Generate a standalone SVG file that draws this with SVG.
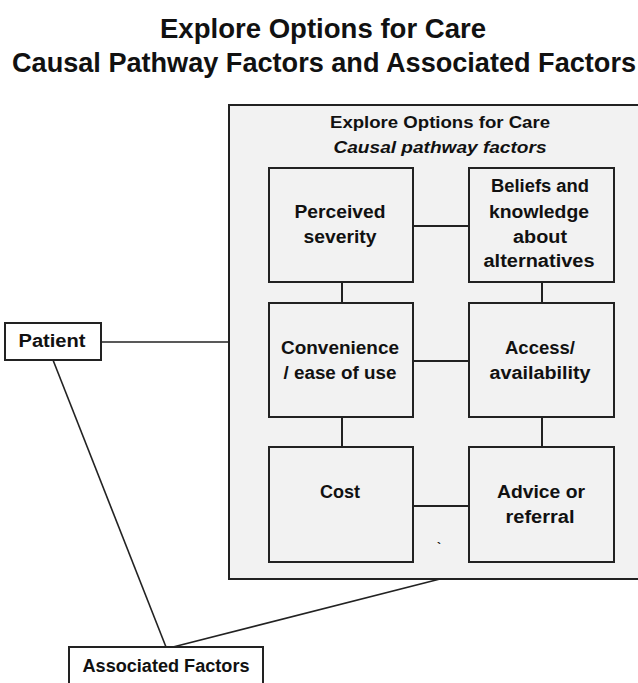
<svg xmlns="http://www.w3.org/2000/svg" width="638" height="683" viewBox="0 0 638 683">
<style>
text{font-family:"Liberation Sans",Arial,sans-serif;font-weight:bold;fill:#111;text-anchor:middle}
.t{font-size:27px}
.h{font-size:16px}
.i{font-size:16px;font-style:italic}
.n{font-size:18px}
.box{fill:#f2f2f2;stroke:#222;stroke-width:2}
.wbox{fill:#fff;stroke:#222;stroke-width:2}
.c{stroke:#222;stroke-width:2;fill:none}
.c2{stroke:#222;stroke-width:1.6;fill:none}
</style>
<rect width="638" height="683" fill="#fff"/>
<g id="title">
<text class="t" x="323" y="38" textLength="326" lengthAdjust="spacingAndGlyphs">Explore Options for Care</text>
<text class="t" x="324" y="72" textLength="624" lengthAdjust="spacingAndGlyphs">Causal  Pathway Factors and Associated Factors</text>
</g>
<g id="outer">
<rect class="box" x="229" y="105" width="420" height="474"/>
<text class="h" x="440" y="128" textLength="220" lengthAdjust="spacingAndGlyphs">Explore Options for Care</text>
<text class="i" x="440" y="153" textLength="213" lengthAdjust="spacingAndGlyphs">Causal pathway factors</text>
<text x="439" y="552" style="font-size:12px">`</text>
</g>
<g id="connectors">
<line class="c2" x1="101" y1="342" x2="229" y2="342"/>
<line class="c2" x1="53" y1="360" x2="166" y2="647"/>
<line class="c2" x1="173" y1="647" x2="440" y2="579"/>
<line class="c" x1="413" y1="226" x2="469" y2="226"/>
<line class="c" x1="413" y1="361" x2="469" y2="361"/>
<line class="c" x1="413" y1="506" x2="469" y2="506"/>
<line class="c" x1="342" y1="282" x2="342" y2="303"/>
<line class="c" x1="542" y1="282" x2="542" y2="303"/>
<line class="c" x1="342" y1="417" x2="342" y2="447"/>
<line class="c" x1="542" y1="417" x2="542" y2="447"/>
</g>
<g id="perceived">
<rect class="box" x="269" y="168" width="144" height="114"/>
<text class="n" x="340" y="218" textLength="91" lengthAdjust="spacingAndGlyphs">Perceived</text>
<text class="n" x="340" y="243" textLength="73" lengthAdjust="spacingAndGlyphs">severity</text>
</g>
<g id="beliefs">
<rect class="box" x="469" y="168" width="145" height="114"/>
<text class="n" x="540" y="192" textLength="98" lengthAdjust="spacingAndGlyphs">Beliefs and</text>
<text class="n" x="539" y="218" textLength="100" lengthAdjust="spacingAndGlyphs">knowledge</text>
<text class="n" x="540" y="243" textLength="54" lengthAdjust="spacingAndGlyphs">about</text>
<text class="n" x="539" y="267" textLength="111" lengthAdjust="spacingAndGlyphs">alternatives</text>
</g>
<g id="convenience">
<rect class="box" x="269" y="303" width="144" height="114"/>
<text class="n" x="340" y="354" textLength="118" lengthAdjust="spacingAndGlyphs">Convenience</text>
<text class="n" x="340" y="379" textLength="113" lengthAdjust="spacingAndGlyphs">/ ease of use</text>
</g>
<g id="access">
<rect class="box" x="469" y="303" width="145" height="114"/>
<text class="n" x="540" y="354" textLength="70" lengthAdjust="spacingAndGlyphs">Access/</text>
<text class="n" x="540" y="379" textLength="101" lengthAdjust="spacingAndGlyphs">availability</text>
</g>
<g id="cost">
<rect class="box" x="269" y="447" width="144" height="115"/>
<text class="n" x="340" y="498" textLength="40" lengthAdjust="spacingAndGlyphs">Cost</text>
</g>
<g id="advice">
<rect class="box" x="469" y="447" width="145" height="115"/>
<text class="n" x="541" y="498" textLength="88" lengthAdjust="spacingAndGlyphs">Advice or</text>
<text class="n" x="540" y="523" textLength="69" lengthAdjust="spacingAndGlyphs">referral</text>
</g>
<g id="patient">
<rect class="wbox" x="5" y="323" width="96" height="37"/>
<text class="n" x="52" y="347" textLength="67" lengthAdjust="spacingAndGlyphs">Patient</text>
</g>
<g id="associated">
<rect class="wbox" x="69" y="647" width="194" height="40"/>
<text class="n" x="166" y="672" textLength="167" lengthAdjust="spacingAndGlyphs">Associated Factors</text>
</g>
</svg>
